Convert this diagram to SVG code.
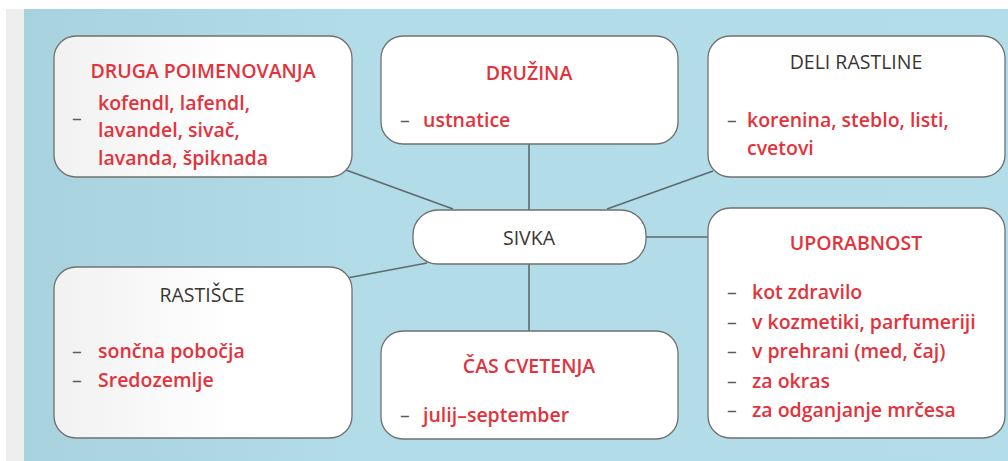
<svg xmlns="http://www.w3.org/2000/svg" width="1008" height="461" viewBox="0 0 1008 461">
<defs>
<linearGradient id="bg" x1="24" y1="0" x2="1008" y2="0" gradientUnits="userSpaceOnUse">
<stop offset="0" stop-color="#a8d3de"/>
<stop offset="0.35" stop-color="#b2dce7"/>
<stop offset="1" stop-color="#b3dde8"/>
</linearGradient>
<linearGradient id="boxg" x1="0" y1="0" x2="1" y2="0">
<stop offset="0" stop-color="#f1f1f1"/>
<stop offset="0.6" stop-color="#ffffff"/>
</linearGradient>
<style>
.box{stroke:#707070;stroke-width:1.3;fill:#ffffff}
.boxl{stroke:#707070;stroke-width:1.3;fill:url(#boxg)}
.con line{stroke:#5d6b6e;stroke-width:1.6}
text{font-family:"Open Sans","Liberation Sans",sans-serif;font-size:19.5px}
.r{fill:#e2333d;font-weight:600}
.d{fill:#3b3532;font-weight:500}
.m{fill:#5a5a5a}
.c{text-anchor:middle}
</style>
</defs>
<rect x="0" y="0" width="1008" height="461" fill="#ffffff"/>
<rect x="6" y="9" width="18" height="452" fill="#eeeeee"/>
<rect x="24" y="9" width="984" height="452" fill="url(#bg)"/>

<g class="con">
<line x1="346" y1="170" x2="453" y2="209"/>
<line x1="529" y1="144" x2="529" y2="210"/>
<line x1="713" y1="171" x2="607" y2="209"/>
<line x1="645" y1="237" x2="708" y2="237"/>
<line x1="347" y1="278" x2="427" y2="263"/>
<line x1="529" y1="264" x2="529" y2="331"/>
</g>

<g id="druga">
<rect class="boxl" x="54" y="36" width="298" height="141" rx="22"/>
<text class="r c" x="203" y="78">DRUGA POIMENOVANJA</text>
<text class="m" x="72" y="125">–</text>
<text class="r" x="98" y="110">kofendl, lafendl,</text>
<text class="r" x="98" y="137">lavandel, sivač,</text>
<text class="r" x="98" y="165">lavanda, špiknada</text>
</g>

<g id="druzina">
<rect class="box" x="381" y="36" width="297" height="108" rx="22"/>
<text class="r c" x="529" y="80">DRUŽINA</text>
<text class="m" x="400" y="127">–</text>
<text class="r" x="423" y="127">ustnatice</text>
</g>

<g id="deli">
<rect class="box" x="708" y="36" width="297" height="141" rx="22"/>
<text class="d c" x="856" y="69">DELI RASTLINE</text>
<text class="m" x="727" y="127">–</text>
<text class="r" x="747" y="127">korenina, steblo, listi,</text>
<text class="r" x="747" y="155">cvetovi</text>
</g>

<g id="sivka">
<rect class="box" x="413" y="210" width="233" height="54" rx="25"/>
<text class="d c" x="529" y="245">SIVKA</text>
</g>

<g id="rastisce">
<rect class="boxl" x="54" y="267" width="298" height="171" rx="22"/>
<text class="d c" x="202" y="302">RASTIŠCE</text>
<text class="m" x="72" y="358">–</text>
<text class="r" x="98" y="358">sončna pobočja</text>
<text class="m" x="72" y="387">–</text>
<text class="r" x="98" y="387">Sredozemlje</text>
</g>

<g id="cas">
<rect class="box" x="381" y="331" width="297" height="108" rx="22"/>
<text class="r c" x="529" y="373">ČAS CVETENJA</text>
<text class="m" x="400" y="422">–</text>
<text class="r" x="423" y="422">julij–september</text>
</g>

<g id="uporabnost">
<rect class="box" x="708" y="208" width="297" height="230" rx="22"/>
<text class="r c" x="856" y="250">UPORABNOST</text>
<text class="m" x="727" y="299">–</text>
<text class="r" x="752" y="299">kot zdravilo</text>
<text class="m" x="727" y="329">–</text>
<text class="r" x="752" y="329">v kozmetiki, parfumeriji</text>
<text class="m" x="727" y="358">–</text>
<text class="r" x="752" y="358">v prehrani (med, čaj)</text>
<text class="m" x="727" y="388">–</text>
<text class="r" x="752" y="388">za okras</text>
<text class="m" x="727" y="417">–</text>
<text class="r" x="752" y="417">za odganjanje mrčesa</text>
</g>
</svg>
